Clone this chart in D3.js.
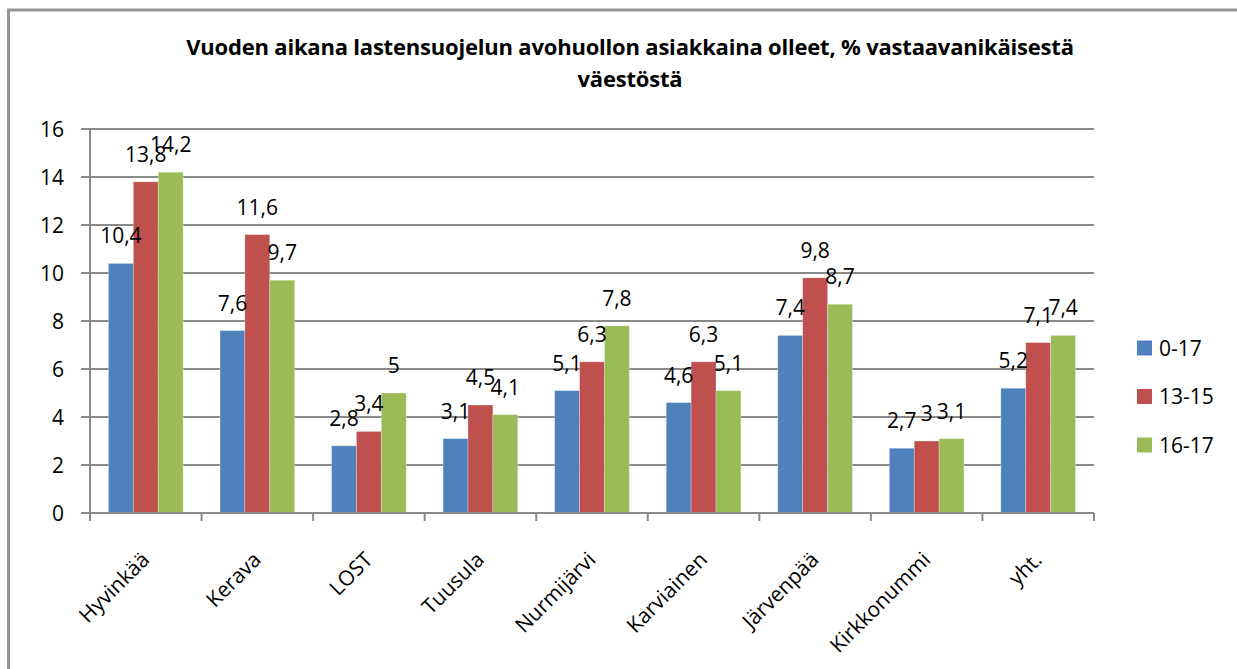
<!DOCTYPE html>
<html>
<head>
    <meta charset="utf-8">
    <script src="https://cdn.jsdelivr.net/npm/d3@7/dist/d3.min.js"></script>
    <style>
        * { margin: 0; padding: 0; }
        body { background: #fff; overflow: hidden; }
        svg { display: block; font-family: "Open Sans", sans-serif; }
    </style>
</head>
<body>
    <svg id="chart" width="1237" height="669"></svg>
    <script>
        var categories = ["Hyvinkää", "Kerava", "LOST", "Tuusula", "Nurmijärvi", "Karviainen", "Järvenpää", "Kirkkonummi", "yht."];
        var seriesNames = ["0-17", "13-15", "16-17"];
        var colors = ["#4F81BD", "#C0504D", "#9BBB59"];
        var v0_17 = [10.4, 7.6, 2.8, 3.1, 5.1, 4.6, 7.4, 2.7, 5.2];
        var v13_15 = [13.8, 11.6, 3.4, 4.5, 6.3, 6.3, 9.8, 3, 7.1];
        var v16_17 = [14.2, 9.7, 5, 4.1, 7.8, 5.1, 8.7, 3.1, 7.4];
        var yTicks = [0, 2, 4, 6, 8, 10, 12, 14, 16];
        var titleLines = ["Vuoden aikana lastensuojelun avohuollon asiakkaina olleet, % vastaavanikäisestä", "väestöstä"];

        var seriesValues = [v0_17, v13_15, v16_17];
        var data = [];
        categories.forEach(function (c, i) {
            seriesNames.forEach(function (s, j) {
                data.push({ cat: c, series: s, value: seriesValues[j][i], color: colors[j] });
            });
        });

        var svg = d3.select("#chart");
        var plotLeft = 90, plotRight = 1094, plotTop = 129, plotBottom = 513;

        // outer frame (only top and left edges are visible)
        svg.append("path")
            .attr("d", "M8.5,669 V10 H1237")
            .attr("fill", "none")
            .attr("stroke", "#949494")
            .attr("stroke-width", 3);

        svg.selectAll(".title").data(titleLines).enter()
            .append("text")
            .attr("x", 630)
            .attr("y", function (d, i) { return 55 + i * 32; })
            .attr("text-anchor", "middle")
            .style("font-size", "22px")
            .style("font-weight", "bold")
            .style("letter-spacing", "-0.2px")
            .text(function (d) { return d; });

        var x0 = d3.scaleBand().domain(categories).range([plotLeft, plotRight]).padding(0);
        var x1 = d3.scaleBand().domain(seriesNames).range([0, x0.bandwidth()]).paddingInner(0).paddingOuter(0.74);
        var y = d3.scaleLinear().domain([0, 16]).range([plotBottom, plotTop]);

        // gridlines
        svg.append("g").selectAll("line").data(yTicks).enter()
            .append("line")
            .attr("x1", plotLeft - 9).attr("x2", plotRight)
            .attr("y1", function (d) { return y(d); })
            .attr("y2", function (d) { return y(d); })
            .attr("stroke", "#8a8a8a")
            .attr("stroke-width", 2);

        svg.append("line")
            .attr("x1", plotLeft).attr("x2", plotLeft)
            .attr("y1", plotTop).attr("y2", plotBottom)
            .attr("stroke", "#8a8a8a").attr("stroke-width", 2);

        svg.append("g").selectAll("text").data(yTicks).enter()
            .append("text")
            .attr("x", 64)
            .attr("y", function (d) { return y(d); })
            .attr("dy", "0.36em")
            .attr("text-anchor", "end")
            .style("font-size", "21px")
            .text(function (d) { return d; });

        // bars
        svg.append("g").selectAll("rect").data(data).enter()
            .append("rect")
            .attr("x", function (d) { return x0(d.cat) + x1(d.series); })
            .attr("y", function (d) { return y(d.value); })
            .attr("width", x1.bandwidth())
            .attr("height", function (d) { return y(0) - y(d.value); })
            .attr("fill", function (d) { return d.color; })
            .attr("stroke", "rgba(255,255,255,0.35)")
            .attr("stroke-width", 0.8);

        // bottom axis
        var xAxis = svg.append("g").attr("transform", "translate(0," + plotBottom + ")");
        xAxis.append("line").attr("x1", plotLeft).attr("x2", plotRight)
            .attr("stroke", "#8a8a8a").attr("stroke-width", 2);
        var bounds = categories.map(function (c) { return x0(c); }).concat([plotRight]);
        xAxis.selectAll(".tk").data(bounds).enter()
            .append("line")
            .attr("x1", function (d) { return d; }).attr("x2", function (d) { return d; })
            .attr("y1", 0).attr("y2", 8)
            .attr("stroke", "#8a8a8a").attr("stroke-width", 2);

        svg.append("g").selectAll("text").data(categories).enter()
            .append("text")
            .attr("transform", function (d) {
                return "translate(" + (x0(d) + x0.bandwidth() / 2 + 5) + "," + 561 + ") rotate(-45)";
            })
            .attr("text-anchor", "end")
            .style("font-size", "21px")
            .text(function (d) { return d; });

        // value labels
        svg.append("g").selectAll("text").data(data).enter()
            .append("text")
            .attr("x", function (d) { return x0(d.cat) + x1(d.series) + x1.bandwidth() / 2; })
            .attr("y", function (d) { return y(d.value) - 20; })
            .attr("text-anchor", "middle")
            .style("font-size", "21px")
            .text(function (d) { return String(d.value).replace(".", ","); });

        // legend
        var legend = svg.append("g").selectAll("g").data(seriesNames).enter()
            .append("g")
            .attr("transform", function (d, i) { return "translate(1137," + (348 + i * 48.5) + ")"; });
        legend.append("rect")
            .attr("x", 0).attr("y", -7.5)
            .attr("width", 15).attr("height", 15)
            .attr("fill", function (d, i) { return colors[i]; });
        legend.append("text")
            .attr("x", 22).attr("dy", "0.36em")
            .style("font-size", "21px")
            .text(function (d) { return d; });
    </script>
</body>
</html>
